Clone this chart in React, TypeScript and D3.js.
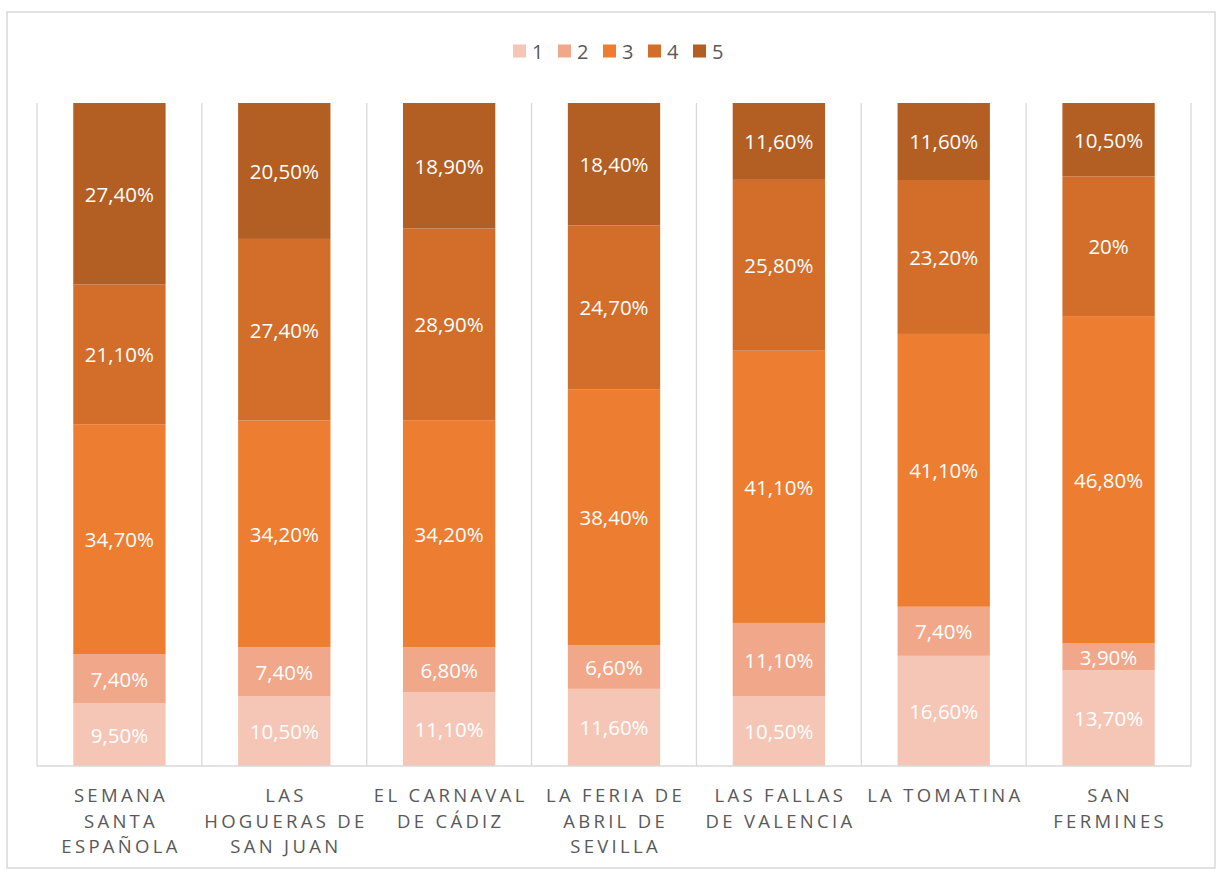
import { useMemo } from 'react';
import * as d3 from 'd3';

// categorías (líneas del eje X tal como aparecen)
const categories = [
  'Semana Santa Española',
  'Las Hogueras de San Juan',
  'El Carnaval de Cádiz',
  'La Feria de Abril de Sevilla',
  'Las Fallas de Valencia',
  'La Tomatina',
  'San Fermines',
];
const categoryLines = [
  ['SEMANA', 'SANTA', 'ESPAÑOLA'],
  ['LAS', 'HOGUERAS DE', 'SAN JUAN'],
  ['EL CARNAVAL', 'DE CÁDIZ'],
  ['LA FERIA DE', 'ABRIL DE', 'SEVILLA'],
  ['LAS FALLAS', 'DE VALENCIA'],
  ['LA TOMATINA'],
  ['SAN', 'FERMINES'],
];

const seriesNames = ['1', '2', '3', '4', '5'];
const s1 = [9.5, 10.5, 11.1, 11.6, 10.5, 16.6, 13.7];
const s2 = [7.4, 7.4, 6.8, 6.6, 11.1, 7.4, 3.9];
const s3 = [34.7, 34.2, 34.2, 38.4, 41.1, 41.1, 46.8];
const s4 = [21.1, 27.4, 28.9, 24.7, 25.8, 23.2, 20];
const s5 = [27.4, 20.5, 18.9, 18.4, 11.6, 11.6, 10.5];
const seriesValues = [s1, s2, s3, s4, s5];
const colors = ['#F5C6B6', '#F1A78A', '#ED7D31', '#D36E2A', '#B35E22'];

const W = 1221;
const H = 869;
const margin = { top: 103, right: 30, bottom: 103, left: 37 };

const fmt = (v: number) => {
  const s = Number.isInteger(v) ? String(v) : v.toFixed(2);
  return s.replace('.', ',') + '%';
};

export default function App() {
  const rows = useMemo(
    () =>
      categories.map((c, i) => {
        const r: Record<string, number | string> = { cat: c };
        seriesNames.forEach((k, j) => (r[k] = seriesValues[j][i]));
        return r;
      }),
    []
  );

  // 100% apilado
  const stacked = useMemo(
    () => d3.stack<any>().keys(seriesNames).offset(d3.stackOffsetExpand)(rows),
    [rows]
  );

  const x = d3
    .scaleBand()
    .domain(categories)
    .range([margin.left, W - margin.right])
    .paddingInner(0)
    .paddingOuter(0);
  const y = d3.scaleLinear().domain([0, 1]).range([H - margin.bottom, margin.top]);

  const barW = x.bandwidth() * 0.56;
  const bottom = H - margin.bottom;
  const font = '"Open Sans", sans-serif';

  return (
    <svg
      width={W}
      height={H}
      style={{ position: 'absolute', left: 0, top: 0, display: 'block', background: '#fff' }}
    >
      <rect x={7} y={12} width={1208} height={856} fill="#fff" stroke="#d9d9d9" strokeWidth={1.5} />

      {/* líneas de división */}
      {categories.map((c) => (
        <line
          key={c}
          x1={x(c)!}
          x2={x(c)!}
          y1={margin.top}
          y2={bottom}
          stroke="#d9d9d9"
          strokeWidth={1.3}
        />
      ))}
      <line
        x1={x(categories[categories.length - 1])! + x.bandwidth()}
        x2={x(categories[categories.length - 1])! + x.bandwidth()}
        y1={margin.top}
        y2={bottom}
        stroke="#d9d9d9"
        strokeWidth={1.3}
      />

      {/* barras */}
      {stacked.map((layer, j) => (
        <g key={layer.key} fill={colors[j]}>
          {layer.map((d, i) => (
            <rect
              key={i}
              x={x(categories[i])! + (x.bandwidth() - barW) / 2}
              y={y(d[1])}
              width={barW}
              height={y(d[0]) - y(d[1])}
            />
          ))}
        </g>
      ))}

      {/* etiquetas de datos */}
      {stacked.map((layer, j) => (
        <g key={'l' + layer.key}>
          {layer.map((d, i) => (
            <text
              key={i}
              x={x(categories[i])! + x.bandwidth() / 2}
              y={(y(d[0]) + y(d[1])) / 2}
              textAnchor="middle"
              dominantBaseline="central"
              fill="#fff"
              fontFamily={font}
              fontSize={20.5}
            >
              {fmt(seriesValues[j][i])}
            </text>
          ))}
        </g>
      ))}

      <line x1={margin.left} x2={W - margin.right} y1={bottom} y2={bottom} stroke="#d9d9d9" strokeWidth={1.5} />

      {/* etiquetas del eje */}
      {categoryLines.map((lines, i) => (
        <text
          key={i}
          textAnchor="middle"
          fill="#595959"
          fontFamily={font}
          fontSize={18.5}
          letterSpacing={3.3}
        >
          {lines.map((l, k) => (
            <tspan key={k} x={x(categories[i])! + x.bandwidth() / 2 + 1.6} y={802 + k * 25.7}>
              {l}
            </tspan>
          ))}
        </text>
      ))}

      {/* leyenda */}
      {seriesNames.map((n, j) => (
        <g key={n} transform={`translate(${513 + j * 45},44.5)`}>
          <rect width={13} height={13} fill={colors[j]} />
          <text x={19} y={6.5} dominantBaseline="central" fill="#595959" fontFamily={font} fontSize={20}>
            {n}
          </text>
        </g>
      ))}
    </svg>
  );
}
